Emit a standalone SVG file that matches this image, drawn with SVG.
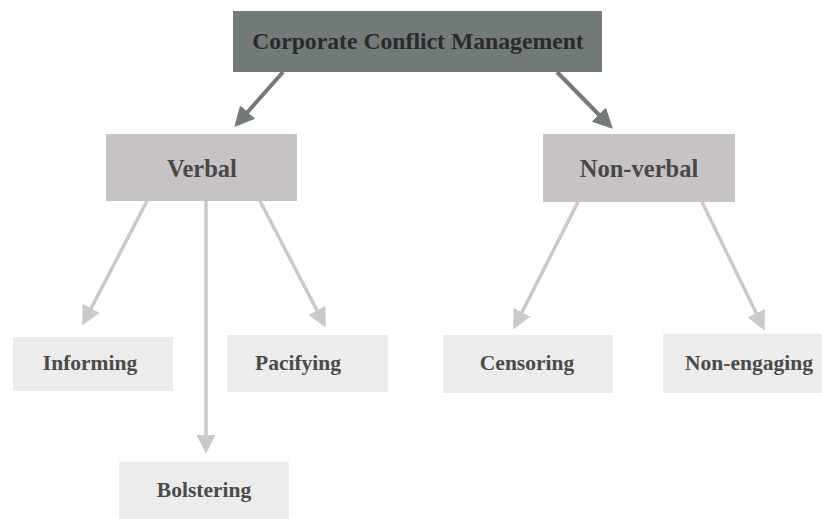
<svg xmlns="http://www.w3.org/2000/svg" width="822" height="519" viewBox="0 0 822 519">
<defs>
<style>
.t{font-family:"Liberation Serif","DejaVu Serif",serif;font-weight:bold;text-anchor:middle;dominant-baseline:central}
.c1{stroke:#737a7a;stroke-width:4;fill:none}
.c2{stroke:#c9c9c9;stroke-width:3.5;fill:none}
</style>
<marker id="ha" viewBox="0 0 10 10" refX="8" refY="5" markerWidth="5" markerHeight="5" orient="auto" markerUnits="strokeWidth"><path d="M0,0 L10,5 L0,10 z" fill="#737a7a"/></marker>
<marker id="hb" viewBox="0 0 10 10" refX="8" refY="5" markerWidth="5.5" markerHeight="5.5" orient="auto" markerUnits="strokeWidth"><path d="M0,0 L10,5 L0,10 z" fill="#c9c9c9"/></marker>
</defs>
<rect width="822" height="519" fill="#ffffff"/>
<g id="connectors">
<line class="c1" x1="283" y1="72" x2="237" y2="124" marker-end="url(#ha)"/>
<line class="c1" x1="557" y1="72" x2="610" y2="126" marker-end="url(#ha)"/>
<line class="c2" x1="147" y1="201" x2="84" y2="322" marker-end="url(#hb)"/>
<line class="c2" x1="206" y1="201" x2="206" y2="450" marker-end="url(#hb)"/>
<line class="c2" x1="260" y1="201" x2="324" y2="324" marker-end="url(#hb)"/>
<line class="c2" x1="578" y1="202" x2="515" y2="326" marker-end="url(#hb)"/>
<line class="c2" x1="702" y1="202" x2="763" y2="327" marker-end="url(#hb)"/>
</g>
<g id="root"><rect x="233" y="11" width="369" height="61" fill="#737a7a"/><text class="t" x="418" y="41" font-size="23.7" fill="#2a2a2a">Corporate Conflict Management</text></g>
<g id="verbal"><rect x="106" y="134" width="191" height="67" fill="#c7c3c4"/><text class="t" x="202" y="168" font-size="24.5" fill="#4a4748">Verbal</text></g>
<g id="nonverbal"><rect x="543" y="134" width="192" height="68" fill="#c7c3c4"/><text class="t" x="639" y="168" font-size="24.5" fill="#4a4748">Non-verbal</text></g>
<g id="informing"><rect x="13" y="337" width="160" height="54" fill="#ececec"/><text class="t" x="90" y="363" font-size="21.5" fill="#4a4a4a">Informing</text></g>
<g id="pacifying"><rect x="227" y="335" width="161" height="57" fill="#ececec"/><text class="t" x="298" y="363" font-size="21.5" fill="#4a4a4a">Pacifying</text></g>
<g id="bolstering"><rect x="119" y="462" width="170" height="57" fill="#ececec"/><text class="t" x="204" y="490" font-size="21.5" fill="#4a4a4a">Bolstering</text></g>
<g id="censoring"><rect x="443" y="335" width="170" height="58" fill="#ececec"/><text class="t" x="527" y="363" font-size="21.5" fill="#4a4a4a">Censoring</text></g>
<g id="nonengaging"><rect x="663" y="334" width="159" height="59" fill="#ececec"/><text class="t" x="749" y="363" font-size="21.5" fill="#4a4a4a">Non-engaging</text></g>
</svg>
